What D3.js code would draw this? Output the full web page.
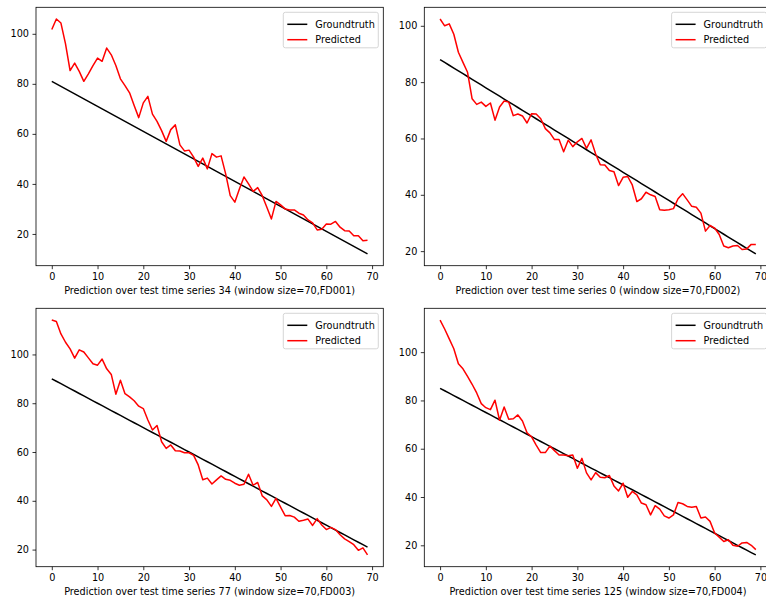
<!DOCTYPE html>
<html>
<head>
<meta charset="utf-8">
<script src="https://cdn.jsdelivr.net/npm/d3@7"></script>
<style>
  body { margin: 0; background: #fff; }
  text { font-family: "DejaVu Sans", sans-serif; }
</style>
</head>
<body>
<script>
// x ticks / y ticks shared by the four subplots
var xTicks = [0, 10, 20, 30, 40, 50, 60, 70];
var yTicks = [20, 40, 60, 80, 100];

// series 34, FD001
var gt34 = [81,80,79,78,77,76,75,74,73,72,71,70,69,68,67,66,65,64,63,62,61,60,59,58,57,56,55,54,53,52,
            51,50,49,48,47,46,45,44,43,42,41,40,39,38,37,36,35,34,33,32,31,30,29,28,27,26,25,24,23,22,
            21,20,19,18,17,16,15,14,13,12];
var pred34 = [101.7,105.9,104.3,96,85.3,88.3,85,81,84,87.3,
              90.3,89,94.3,91.6,87.3,82,79.3,76.4,71.3,66.5,
              72.4,75,67.9,65,61.3,57,61.7,63.6,55.6,53.2,
              53.5,50.7,47,50.3,46,52.1,50.7,51.2,44,35.3,
              32.7,38,42.8,40,37,38.5,35.3,30.7,26,33,
              31.6,30,29.6,29.6,28.3,27.6,25.6,24.4,21.6,21.9,
              24,23.9,25,22.7,21.3,21.2,19.3,19.3,17.3,17.5];

// series 0, FD002
var gt0 = [88,87,86,85,84,83,82,81,80,79,78,77,76,75,74,73,72,71,70,69,68,67,66,65,64,63,62,61,60,59,
           58,57,56,55,54,53,52,51,50,49,48,47,46,45,44,43,42,41,40,39,38,37,36,35,34,33,32,31,30,29,
           28,27,26,25,24,23,22,21,20,19];
var pred0 = [102.4,100,100.7,97,90.6,87,83.5,74.1,72.1,72.9,
             71.4,72.6,66.5,71.2,73.3,72.9,68.1,68.7,68,65.5,
             68.8,68.7,67,63.5,62,59.6,59.6,55.3,59.4,57.1,
             58.8,60,56.5,59.5,54.5,50.7,50.6,48.6,48.2,43.3,
             46.2,46.5,43.5,37.6,38.6,40.9,40,39.4,34.7,34.5,
             34.7,35.1,38.6,40.4,38.2,35.9,35.6,33.5,27.1,29.1,
             28.2,25.9,21.8,21.2,21.8,22,20.6,20.8,22.4,22.4];

// series 77, FD003
var gt77 = [90,89,88,87,86,85,84,83,82,81,80,79,78,77,76,75,74,73,72,71,70,69,68,67,66,65,64,63,62,61,
            60,59,58,57,56,55,54,53,52,51,50,49,48,47,46,45,44,43,42,41,40,39,38,37,36,35,34,33,32,31,
            30,29,28,27,26,25,24,23,22,21];
var pred77 = [114.1,113.5,108.4,105,102.3,98.5,101.9,101,98.6,96.2,
              95.6,98.1,94.1,91.8,83.7,89.4,83.9,82.6,81,78.8,
              77.8,73.1,69,70.9,64.2,61.5,62.9,60.5,60.4,59.7,
              59.7,58.6,54.7,48.6,49.3,46.9,48.6,50.2,48.8,48.4,
              47.2,46.4,46.8,50.9,46.4,47.5,42,40.4,37.7,41,
              37.4,33.9,34,33.3,31.6,32,32.5,29.9,32.7,30.1,
              28.2,29.1,28.2,26.1,24.4,23.3,22,19.7,20.7,17.8];

// series 125, FD004
var gt125 = [85,84,83,82,81,80,79,78,77,76,75,74,73,72,71,70,69,68,67,66,65,64,63,62,61,60,59,58,57,56,
             55,54,53,52,51,50,49,48,47,46,45,44,43,42,41,40,39,38,37,36,35,34,33,32,31,30,29,28,27,26,
             25,24,23,22,21,20,19,18,17,16];
var pred125 = [113.3,109.6,105.5,101.4,95.2,93.1,90,86.7,83.1,78.7,
               77,76.2,80.1,71.8,77.3,72.2,72.4,74,71.5,66.6,
               64.9,61.5,58.4,58.4,61.1,59.2,57.4,57.4,57.1,57.4,
               51.9,56,50,47.1,50.1,48.2,48,48.9,44.6,42.5,
               45.7,39.9,42.3,40.9,37.5,36.8,32.6,36.4,35,32.2,
               31.3,32.6,37.7,37.2,36.1,35.8,36.1,31.3,31.7,29.9,
               25.1,23.4,21.6,22.3,20,19.6,21,21.2,20,18.2];

var seriesIds = ["34", "0", "77", "125"];
var subsets = ["FD001", "FD002", "FD003", "FD004"];
var truths = [gt34, gt0, gt77, gt125];
var preds = [pred34, pred0, pred77, pred125];

var fontSize = 9.7;

var svg = d3.select("body").append("svg")
    .attr("width", 766)
    .attr("height", 600);

svg.append("rect").attr("width", 766).attr("height", 600).attr("fill", "#fff");

var pw = 347.3, ph = 258.4;
var origins = [[36, 7.3], [424.3, 7.3], [36, 308.3], [424.3, 308.3]];

seriesIds.forEach(function(id, k) {
  var gt = truths[k], pred = preds[k];
  var g = svg.append("g")
      .attr("transform", "translate(" + origins[k][0] + "," + origins[k][1] + ")");

  // matplotlib-like 5% margins
  var n = gt.length - 1;
  var x = d3.scaleLinear()
      .domain([-0.05 * n, n * 1.05])
      .range([0, pw]);
  var ext = d3.extent(gt.concat(pred));
  var pad = (ext[1] - ext[0]) * 0.05;
  var y = d3.scaleLinear()
      .domain([ext[0] - pad, ext[1] + pad])
      .range([ph, 0]);

  var line = d3.line()
      .x(function(d, i) { return x(i); })
      .y(function(d) { return y(d); });

  g.append("path")
      .datum(gt)
      .attr("fill", "none")
      .attr("stroke", "#000")
      .attr("stroke-width", 1.5)
      .attr("d", line);

  g.append("path")
      .datum(pred)
      .attr("fill", "none")
      .attr("stroke", "#ff0000")
      .attr("stroke-width", 1.5)
      .attr("stroke-linejoin", "round")
      .attr("d", line);

  var xAxis = g.append("g")
      .attr("transform", "translate(0," + ph + ")")
      .call(d3.axisBottom(x).tickValues(xTicks).tickSize(3.5).tickPadding(3.5));
  var yAxis = g.append("g")
      .call(d3.axisLeft(y).tickValues(yTicks).tickSize(3.5).tickPadding(3.5));

  [xAxis, yAxis].forEach(function(a) {
    a.select(".domain").remove();
    a.attr("font-family", "DejaVu Sans").attr("font-size", fontSize);
    a.selectAll(".tick line").attr("stroke", "#000").attr("stroke-width", 0.8);
    a.selectAll(".tick text").attr("fill", "#000");
  });

  // spines
  g.append("rect")
      .attr("width", pw)
      .attr("height", ph)
      .attr("fill", "none")
      .attr("stroke", "#000")
      .attr("stroke-width", 0.8);

  g.append("text")
      .attr("x", pw / 2)
      .attr("y", ph + 28.5)
      .attr("text-anchor", "middle")
      .attr("font-size", fontSize)
      .attr("fill", "#000")
      .text("Prediction over test time series " + id + " (window size=70," + subsets[k] + ")");

  // legend
  var lw = 95, lh = 35.5;
  var legend = g.append("g")
      .attr("transform", "translate(" + (pw - 5 - lw) + ",5)");
  legend.append("rect")
      .attr("width", lw)
      .attr("height", lh)
      .attr("rx", 2)
      .attr("fill", "#fff")
      .attr("fill-opacity", 0.8)
      .attr("stroke", "#cccccc")
      .attr("stroke-width", 0.8);

  var items = [["Groundtruth", "#000"], ["Predicted", "#ff0000"]];
  items.forEach(function(it, j) {
    var cy = 12 + j * 15.4;
    legend.append("line")
        .attr("x1", 4).attr("x2", 24)
        .attr("y1", cy).attr("y2", cy)
        .attr("stroke", it[1])
        .attr("stroke-width", 1.5);
    legend.append("text")
        .attr("x", 32)
        .attr("y", cy)
        .attr("dy", "0.35em")
        .attr("font-size", fontSize)
        .attr("fill", "#000")
        .text(it[0]);
  });
});
</script>
</body>
</html>
